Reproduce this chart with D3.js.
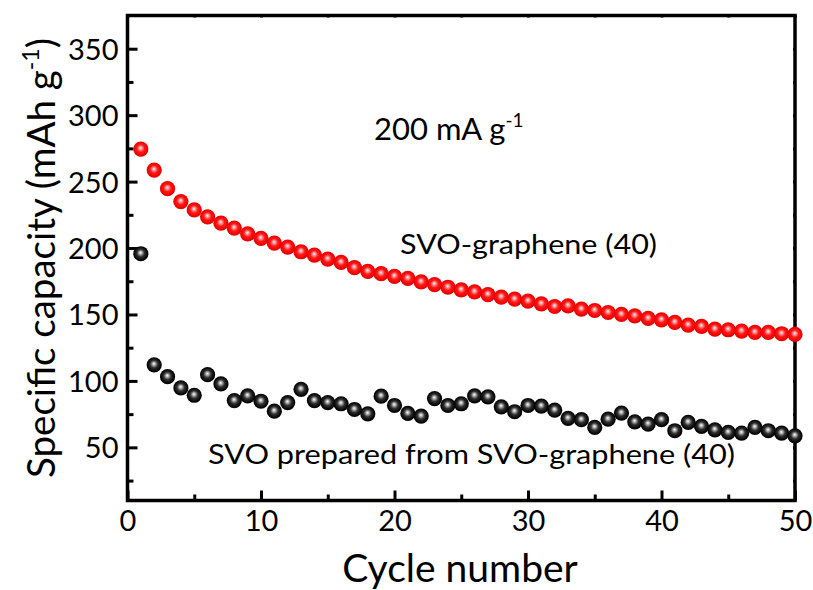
<!DOCTYPE html>
<html>
<head>
<meta charset="utf-8">
<script src="https://cdn.jsdelivr.net/npm/d3@7"></script>
<style>
  html, body { margin: 0; padding: 0; background: #fff; }
  svg { display: block; }
  text { font-family: Lato, "Open Sans", sans-serif; fill: #000; }
</style>
</head>
<body>
<svg id="chart" width="813" height="590"></svg>
<script>
// ---- data ----
const cycles = d3.range(1, 51);
const svoGraphene = [274.5, 258.7, 244.7, 235.0, 228.7, 223.5, 218.7, 215.0, 210.7, 207.2,
  203.7, 200.7, 197.2, 194.7, 191.7, 189.2, 185.2, 182.4, 180.7, 178.7,
  177.2, 174.5, 172.5, 170.5, 168.5, 167.0, 165.0, 163.0, 161.5, 160.0,
  158.0, 156.0, 156.5, 154.0, 153.0, 151.5, 150.0, 149.0, 147.0, 146.0,
  144.0, 142.0, 141.0, 139.0, 138.5, 137.5, 136.5, 136.5, 135.5, 135.0];
const svoPrepared = [195.7, 112.1, 103.2, 94.7, 89.2, 104.7, 97.7, 85.2, 88.7, 84.7,
  77.2, 83.7, 93.7, 85.2, 83.7, 82.8, 78.5, 75.2, 88.5, 81.5,
  75.5, 73.5, 86.7, 81.5, 82.8, 88.8, 88.0, 80.5, 76.8, 81.5,
  81.0, 78.0, 71.8, 70.8, 65.0, 71.2, 75.8, 69.2, 67.5, 70.8,
  62.5, 68.8, 65.8, 63.2, 61.2, 60.7, 65.0, 62.5, 60.7, 58.7];
const xTicks = [0, 10, 20, 30, 40, 50];
const xMinorTicks = [5, 15, 25, 35, 45];
const yTicks = [50, 100, 150, 200, 250, 300, 350];
const yMinorTicks = [25, 75, 125, 175, 225, 275, 325];

// ---- layout ----
const svg = d3.select("#chart");
const mL = 127.5, mR = 795, mT = 15.5, mB = 500.5;
const x = d3.scaleLinear().domain([0, 50]).range([mL, mR]);
const y = d3.scaleLinear().domain([10, 375]).range([mB, mT]);

// gradients
const defs = svg.append("defs");
function ball(id, stops) {
  const g = defs.append("radialGradient").attr("id", id)
    .attr("cx", "50%").attr("cy", "50%").attr("r", "55%")
    .attr("fx", "48%").attr("fy", "42%");
  stops.forEach(s => g.append("stop").attr("offset", s[0]).attr("stop-color", s[1]));
}
ball("gRed", [[0, "#fff4f4"], [0.18, "#ff9c9c"], [0.45, "#ff1a1a"], [0.8, "#f00000"], [1, "#c80000"]]);
ball("gBlack", [[0, "#ffffff"], [0.18, "#b0b0b0"], [0.45, "#303030"], [0.8, "#050505"], [1, "#000000"]]);

// axes
const fs = 29;
const axB = svg.append("g").attr("transform", `translate(0,${mB})`)
  .call(d3.axisBottom(x).tickValues(xTicks).tickSizeInner(-10).tickSizeOuter(0).tickPadding(10).tickFormat(d3.format("d")));
const axBm = svg.append("g").attr("transform", `translate(0,${mB})`)
  .call(d3.axisBottom(x).tickValues(xMinorTicks).tickSizeInner(-6).tickSizeOuter(0).tickFormat(""));
const axL = svg.append("g").attr("transform", `translate(${mL},0)`)
  .call(d3.axisLeft(y).tickValues(yTicks).tickSizeInner(-10).tickSizeOuter(0).tickPadding(9).tickFormat(d3.format("d")));
const axLm = svg.append("g").attr("transform", `translate(${mL},0)`)
  .call(d3.axisLeft(y).tickValues(yMinorTicks).tickSizeInner(-6).tickSizeOuter(0).tickFormat(""));
const axT = svg.append("g").attr("transform", `translate(0,${mT})`)
  .call(d3.axisTop(x).tickValues(xTicks.concat(xMinorTicks)).tickSizeInner(-2).tickSizeOuter(0).tickFormat(""));
const axR = svg.append("g").attr("transform", `translate(${mR},0)`)
  .call(d3.axisRight(y).tickValues(yTicks.concat(yMinorTicks)).tickSizeInner(-2).tickSizeOuter(0).tickFormat(""));
[axB, axBm, axL, axLm, axT, axR].forEach(a => {
  a.select(".domain").remove();
  a.selectAll(".tick line").attr("stroke", "#000").attr("stroke-width", 3);
  a.selectAll(".tick text").style("font-family", "Lato, 'Open Sans', sans-serif").attr("font-size", fs).attr("fill", "#000");
});
axB.selectAll(".tick text").attr("dy", "0.72em");
axL.selectAll(".tick text").attr("dy", "0.36em");

// frame
svg.append("rect").attr("x", mL).attr("y", mT)
  .attr("width", mR - mL).attr("height", mB - mT)
  .attr("fill", "none").attr("stroke", "#000").attr("stroke-width", 3.5);

// points
const r = 7.6;
svg.append("g").selectAll("circle").data(cycles.map((c, i) => [c, svoPrepared[i]]))
  .join("circle").attr("cx", d => x(d[0])).attr("cy", d => y(d[1])).attr("r", r)
  .attr("fill", "url(#gBlack)");
svg.append("g").selectAll("circle").data(cycles.map((c, i) => [c, svoGraphene[i]]))
  .join("circle").attr("cx", d => x(d[0])).attr("cy", d => y(d[1])).attr("r", r)
  .attr("fill", "url(#gRed)");

// annotations
const t1 = svg.append("text").attr("x", 374).attr("y", 140).attr("font-size", 31);
t1.append("tspan").text("200 mA g");
t1.append("tspan").attr("font-size", 19).attr("dy", -13).text("-1");

svg.append("text").attr("x", 400).attr("y", 254).attr("font-size", 26)
  .attr("textLength", 257).attr("lengthAdjust", "spacingAndGlyphs").text("SVO-graphene (40)");
svg.append("text").attr("x", 208).attr("y", 464).attr("font-size", 26)
  .attr("textLength", 527).attr("lengthAdjust", "spacingAndGlyphs").text("SVO prepared from SVO-graphene (40)");

// axis titles
svg.append("text").attr("x", 460).attr("y", 582).attr("text-anchor", "middle")
  .attr("font-size", 39).text("Cycle number");
const yt = svg.append("text").attr("transform", `translate(55,${(mT + mB) / 2}) rotate(-90)`)
  .attr("text-anchor", "middle").attr("font-size", 38.5);
yt.append("tspan").text("Specific capacity (mAh g");
yt.append("tspan").attr("font-size", 23).attr("dy", -16).text("-1");
yt.append("tspan").attr("dy", 16).text(")");
</script>
</body>
</html>
